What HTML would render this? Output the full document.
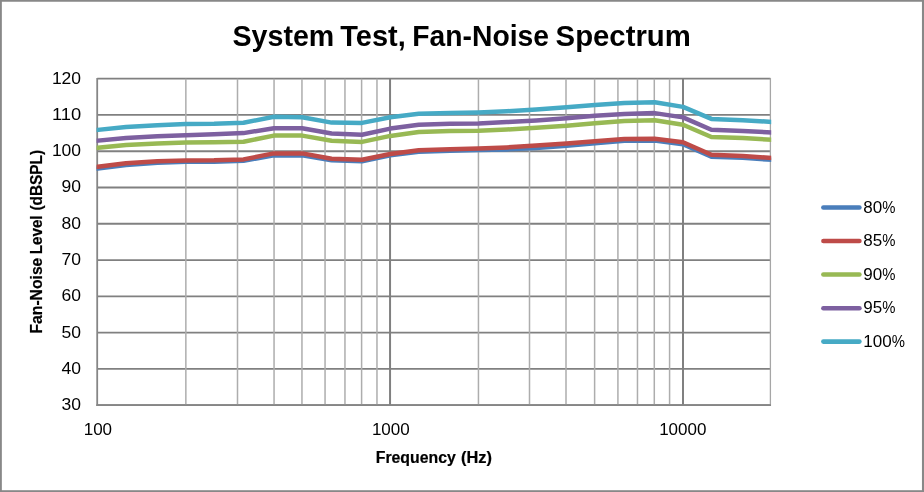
<!DOCTYPE html>
<html lang="en"><head><meta charset="utf-8"><title>System Test, Fan-Noise Spectrum</title>
<style>
html,body{margin:0;padding:0;background:#fff;}
body{width:924px;height:492px;overflow:hidden;}
svg{display:block;will-change:transform;}
text{font-family:"Liberation Sans",sans-serif;fill:#000;}
.b{font-weight:bold;}
</style></head><body>
<svg width="924" height="492" viewBox="0 0 924 492">
<rect x="0" y="0" width="924" height="492" fill="#ffffff"/>
<g fill="#888888"><rect x="0" y="0" width="924" height="1.75"/><rect x="0" y="0" width="1.85" height="492"/><rect x="921.95" y="0" width="2.05" height="492"/><rect x="0" y="490.2" width="924" height="1.8"/></g>
<clipPath id="plotclip"><rect x="96.6" y="70" width="674.6" height="340"/></clipPath>

<g stroke="#808080" stroke-width="1.8" fill="none">
<line x1="97.2" y1="405.10" x2="770.4" y2="405.10"/>
<line x1="97.2" y1="368.83" x2="770.4" y2="368.83"/>
<line x1="97.2" y1="332.57" x2="770.4" y2="332.57"/>
<line x1="97.2" y1="296.30" x2="770.4" y2="296.30"/>
<line x1="97.2" y1="260.03" x2="770.4" y2="260.03"/>
<line x1="97.2" y1="223.77" x2="770.4" y2="223.77"/>
<line x1="97.2" y1="187.50" x2="770.4" y2="187.50"/>
<line x1="97.2" y1="151.23" x2="770.4" y2="151.23"/>
<line x1="97.2" y1="114.97" x2="770.4" y2="114.97"/>
<line x1="97.2" y1="78.70" x2="770.4" y2="78.70"/>
</g>
<g stroke="#adadad" stroke-width="1.5" fill="none">
<line x1="185.85" y1="78.7" x2="185.85" y2="405.1"/>
<line x1="237.50" y1="78.7" x2="237.50" y2="405.1"/>
<line x1="274.05" y1="78.7" x2="274.05" y2="405.1"/>
<line x1="301.95" y1="78.7" x2="301.95" y2="405.1"/>
<line x1="325.05" y1="78.7" x2="325.05" y2="405.1"/>
<line x1="344.96" y1="78.7" x2="344.96" y2="405.1"/>
<line x1="361.60" y1="78.7" x2="361.60" y2="405.1"/>
<line x1="376.97" y1="78.7" x2="376.97" y2="405.1"/>
<line x1="478.45" y1="78.7" x2="478.45" y2="405.1"/>
<line x1="529.50" y1="78.7" x2="529.50" y2="405.1"/>
<line x1="566.00" y1="78.7" x2="566.00" y2="405.1"/>
<line x1="594.62" y1="78.7" x2="594.62" y2="405.1"/>
<line x1="617.92" y1="78.7" x2="617.92" y2="405.1"/>
<line x1="637.47" y1="78.7" x2="637.47" y2="405.1"/>
<line x1="654.29" y1="78.7" x2="654.29" y2="405.1"/>
<line x1="669.58" y1="78.7" x2="669.58" y2="405.1"/>
</g>
<g stroke="#808080" stroke-width="2" fill="none">
<line x1="390.05" y1="78.7" x2="390.05" y2="405.1"/>
<line x1="683.00" y1="78.7" x2="683.00" y2="405.1"/>
</g>
<g stroke="#868686" fill="none">
<line x1="97.2" y1="77.9" x2="97.2" y2="406.0" stroke-width="1.8"/>
<line x1="770.4" y1="77.9" x2="770.4" y2="406.0" stroke-width="1.3" stroke="#a6a6a6"/>
<line x1="96.3" y1="405.1" x2="771.0" y2="405.1" stroke-width="1.8"/>
</g>
<g fill="none" stroke-width="4.5" stroke-linejoin="round" stroke-linecap="square" clip-path="url(#plotclip)">
<polyline stroke="#4A7EBB" points="97.7,168.5 126.0,165.0 157.4,162.7 185.8,161.8 214.1,161.8 243.5,160.8 273.9,155.4 302.2,155.4 331.6,160.3 362.0,161.2 390.3,155.2 418.7,151.7 450.1,150.8 478.5,150.1 506.8,149.4 536.2,148.0 566.6,145.8 594.9,143.3 624.3,140.7 654.7,140.4 683.0,144.2 711.4,156.7 742.8,157.8 771.2,159.8"/>
<polyline stroke="#BE4B48" points="97.7,166.8 126.0,163.2 157.4,161.3 185.8,160.4 214.1,160.3 243.5,159.4 273.9,153.4 302.2,153.4 331.6,158.7 362.0,159.8 390.3,154.0 418.7,150.3 450.1,149.3 478.5,148.6 506.8,147.4 536.2,145.6 566.6,143.6 594.9,141.2 624.3,139.0 654.7,138.8 683.0,142.3 711.4,154.8 742.8,156.0 771.2,157.9"/>
<polyline stroke="#98B954" points="97.7,147.8 126.0,145.1 157.4,143.4 185.8,142.6 214.1,142.3 243.5,141.7 273.9,135.6 302.2,135.6 331.6,140.8 362.0,141.9 390.3,135.9 418.7,131.9 450.1,131.1 478.5,130.7 506.8,129.5 536.2,127.7 566.6,125.7 594.9,123.2 624.3,121.1 654.7,120.2 683.0,124.7 711.4,137.0 742.8,138.1 771.2,139.8"/>
<polyline stroke="#7D60A0" points="97.7,140.7 126.0,138.0 157.4,136.3 185.8,135.3 214.1,134.3 243.5,133.1 273.9,128.2 302.2,128.2 331.6,133.5 362.0,134.7 390.3,128.6 418.7,124.7 450.1,123.8 478.5,123.4 506.8,122.1 536.2,120.4 566.6,118.3 594.9,115.8 624.3,113.9 654.7,113.1 683.0,117.4 711.4,129.7 742.8,130.9 771.2,132.5"/>
<polyline stroke="#46AAC5" points="97.7,129.9 126.0,127.1 157.4,125.2 185.8,124.1 214.1,123.8 243.5,122.8 273.9,116.7 302.2,117.2 331.6,122.6 362.0,122.9 390.3,117.3 418.7,113.8 450.1,113.1 478.5,112.5 506.8,111.3 536.2,109.6 566.6,107.3 594.9,104.9 624.3,102.9 654.7,102.2 683.0,106.9 711.4,118.9 742.8,120.2 771.2,121.9"/>
</g>
<g font-size="16.7" text-anchor="end">
<text x="81.1" y="410.0" textLength="19.5" lengthAdjust="spacingAndGlyphs">30</text>
<text x="81.1" y="373.7" textLength="19.5" lengthAdjust="spacingAndGlyphs">40</text>
<text x="81.1" y="337.5" textLength="19.5" lengthAdjust="spacingAndGlyphs">50</text>
<text x="81.1" y="301.2" textLength="19.5" lengthAdjust="spacingAndGlyphs">60</text>
<text x="81.1" y="264.9" textLength="19.5" lengthAdjust="spacingAndGlyphs">70</text>
<text x="81.1" y="228.7" textLength="19.5" lengthAdjust="spacingAndGlyphs">80</text>
<text x="81.1" y="192.4" textLength="19.5" lengthAdjust="spacingAndGlyphs">90</text>
<text x="81.1" y="156.1" textLength="29.2" lengthAdjust="spacingAndGlyphs">100</text>
<text x="81.1" y="119.9" textLength="29.2" lengthAdjust="spacingAndGlyphs">110</text>
<text x="81.1" y="83.6" textLength="29.2" lengthAdjust="spacingAndGlyphs">120</text>
</g>
<g font-size="17" text-anchor="middle">
<text x="97.9" y="434.7">100</text>
<text x="390.8" y="434.7">1000</text>
<text x="682.8" y="434.7">10000</text>
</g>
<g class="b" font-size="30">
<text x="232.50" y="46.2" textLength="101.78" lengthAdjust="spacingAndGlyphs">System</text>
<text x="340.30" y="46.2" textLength="65.44" lengthAdjust="spacingAndGlyphs">Test,</text>
<text x="412.35" y="46.2" textLength="136.62" lengthAdjust="spacingAndGlyphs">Fan-Noise</text>
<text x="555.60" y="46.2" textLength="135.20" lengthAdjust="spacingAndGlyphs">Spectrum</text>
</g>
<g class="b" font-size="15.8" stroke="#000" stroke-width="0.2">
<text x="375.74" y="462.6" textLength="80.01" lengthAdjust="spacingAndGlyphs">Frequency</text>
<text x="460.98" y="462.6" textLength="30.95" lengthAdjust="spacingAndGlyphs">(Hz)</text>
</g>
<g class="b"  font-size="15.8" stroke="#000" stroke-width="0.2" transform="translate(42.2,332.5) rotate(-90)">
<text x="-1.04" y="0" textLength="75.90" lengthAdjust="spacingAndGlyphs">Fan-Noise</text>
<text x="78.18" y="0" textLength="38.90" lengthAdjust="spacingAndGlyphs">Level</text>
<text x="121.94" y="0" textLength="60.58" lengthAdjust="spacingAndGlyphs">(dBSPL)</text>
</g>
<g stroke-width="4.6" stroke-linecap="round" fill="none">
<line x1="823.4" y1="207.5" x2="859.4" y2="207.5" stroke="#4A7EBB"/>
<line x1="823.4" y1="241.0" x2="859.4" y2="241.0" stroke="#BE4B48"/>
<line x1="823.4" y1="274.5" x2="859.4" y2="274.5" stroke="#98B954"/>
<line x1="823.4" y1="308.2" x2="859.4" y2="308.2" stroke="#7D60A0"/>
<line x1="823.4" y1="341.6" x2="859.4" y2="341.6" stroke="#46AAC5"/>
</g>
<g font-size="17">
<text x="863.3" y="212.5">80<tspan textLength="13.2" lengthAdjust="spacingAndGlyphs">%</tspan></text>
<text x="863.3" y="246.0">85<tspan textLength="13.2" lengthAdjust="spacingAndGlyphs">%</tspan></text>
<text x="863.3" y="279.5">90<tspan textLength="13.2" lengthAdjust="spacingAndGlyphs">%</tspan></text>
<text x="863.3" y="313.2">95<tspan textLength="13.2" lengthAdjust="spacingAndGlyphs">%</tspan></text>
<text x="863.3" y="346.6">100<tspan textLength="13.2" lengthAdjust="spacingAndGlyphs">%</tspan></text>
</g>
</svg></body></html>
